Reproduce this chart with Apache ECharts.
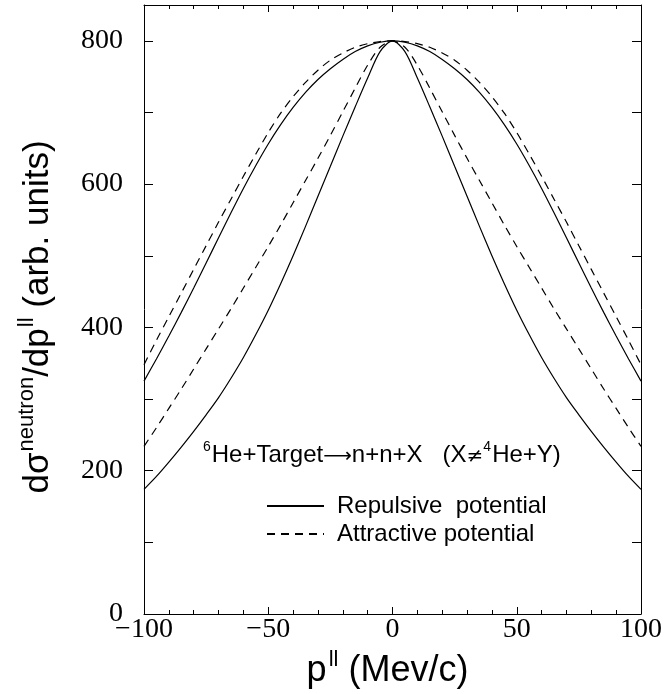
<!DOCTYPE html>
<html>
<head>
<meta charset="utf-8">
<script src="https://cdn.jsdelivr.net/npm/echarts@6/dist/echarts.min.js"></script>
<style>
  html, body { margin: 0; padding: 0; background: #fff; }
  #chart { width: 665px; height: 694px; }
</style>
</head>
<body>
<div id="chart"></div>
<script>
// p|| values (Mev/c)
const pValues = [-100, -95, -90, -85, -80, -75, -70, -65, -60, -55, -50, -45, -40, -35, -30, -25, -20, -15, -10, -5, 0,
  5, 10, 15, 20, 25, 30, 35, 40, 45, 50, 55, 60, 65, 70, 75, 80, 85, 90, 95, 100];
// repulsive potential, wide and narrow curves
const repulsiveWide = [325, 356, 388, 421, 455, 490, 525, 560, 594, 626, 656, 683, 707, 728, 746, 761, 774, 785, 793, 798, 800,
  798, 793, 785, 774, 761, 746, 728, 707, 683, 656, 626, 594, 560, 525, 490, 455, 421, 388, 356, 325];
const repulsiveNarrow = [174, 192, 212, 233, 255, 278, 302, 329, 358, 390, 424, 461, 500, 541, 583, 625, 667, 708, 748, 785, 800,
  785, 748, 708, 667, 625, 583, 541, 500, 461, 424, 390, 358, 329, 302, 278, 255, 233, 212, 192, 174];
// attractive potential, wide and narrow curves
const attractiveWide = [348, 382, 415, 448, 481, 514, 547, 579, 611, 642, 672, 699, 722, 742, 759, 773, 783, 791, 796, 799, 800,
  799, 796, 791, 783, 773, 759, 742, 722, 699, 672, 642, 611, 579, 547, 514, 481, 448, 415, 382, 348];
const attractiveNarrow = [234, 260, 287, 314, 342, 370, 398, 426, 455, 484, 513, 543, 574, 605, 636, 668, 701, 734, 766, 791, 800,
  791, 766, 734, 701, 668, 636, 605, 574, 543, 513, 484, 455, 426, 398, 370, 342, 314, 287, 260, 234];

const serif = "Liberation Serif";
const sans = "Liberation Sans";

const pairs = (ys) => pValues.map((x, i) => [x, ys[i]]);

const chart = echarts.init(document.getElementById("chart"));

const lineSeries = (name, ys, dashed) => ({
  name: name,
  type: "line",
  data: pairs(ys),
  smooth: 0.3,
  symbol: "none",
  showSymbol: false,
  lineStyle: { color: "#000", width: 1.2, type: dashed ? [8, 6] : "solid" },
  itemStyle: { color: "#000" },
});

const axisCommon = {
  axisLine: { show: true, onZero: false, lineStyle: { color: "#000", width: 1 } },
  splitLine: { show: false },
};

const xTicks = {
  axisTick: { inside: true, length: 7, lineStyle: { color: "#000" } },
  minorTick: { show: true, splitNumber: 5, length: 4, lineStyle: { color: "#000" } },
};
const yTicks = {
  axisTick: { inside: true, length: 9, lineStyle: { color: "#000" } },
};

let option = {
  animation: false,
  grid: { left: 144, right: 23, top: 5, bottom: 80 },
  legend: {
    data: ["Repulsive  potential", "Attractive potential"],
    orient: "vertical",
    left: 266,
    top: 494,
    padding: 0,
    itemWidth: 57,
    itemHeight: 14,
    itemGap: 4,
    itemStyle: { color: "rgba(0,0,0,0)", borderColor: "rgba(0,0,0,0)", borderWidth: 0 },
    textStyle: { fontFamily: sans, fontSize: 24, color: "#000", padding: [0, 0, 0, 8] },
  },
  xAxis: [
    {
      ...axisCommon,
      ...xTicks,
      type: "value",
      min: -100,
      max: 100,
      interval: 50,
      position: "bottom",
      axisLabel: {
        fontFamily: serif,
        fontSize: 28,
        color: "#000",
        margin: 2,
        formatter: (v) => String(v).replace("-", "\u2212"),
      },
      name: "{m|p}{s|ll}{e| (Mev/c)}",
      nameLocation: "middle",
      nameGap: 31,
      nameTextStyle: {
        rich: {
          m: { fontFamily: sans, fontSize: 36, color: "#000", verticalAlign: "bottom", lineHeight: 40 },
          e: { fontFamily: sans, fontSize: 36, color: "#000", verticalAlign: "bottom", lineHeight: 40, padding: [0, 10, 0, 0] },
          s: { fontFamily: sans, fontSize: 22, color: "#000", verticalAlign: "top", lineHeight: 22, padding: [0, 0, 8, 2] },
        },
      },
    },
    {
      ...axisCommon,
      ...xTicks,
      type: "value",
      min: -100,
      max: 100,
      interval: 50,
      position: "top",
      axisLabel: { show: false },
    },
  ],
  yAxis: [
    {
      ...axisCommon,
      ...yTicks,
      type: "value",
      min: 0,
      max: 850,
      interval: 100,
      position: "left",
      axisLabel: {
        fontFamily: serif,
        fontSize: 28,
        color: "#000",
        margin: 21,
        formatter: (v) => (v % 200 === 0 && v <= 800 ? String(v) : ""),
      },
      name: "{m|d\u03c3}{s|neutron}{m|/dp}{s|ll}{e| (arb. units)}",
      nameLocation: "middle",
      nameGap: 88,
      nameRotate: 90,
      nameTextStyle: {
        rich: {
          m: { fontFamily: sans, fontSize: 35, color: "#000", verticalAlign: "bottom", lineHeight: 40 },
          e: { fontFamily: sans, fontSize: 35, color: "#000", verticalAlign: "bottom", lineHeight: 40, padding: [0, 15, 0, 0] },
          s: { fontFamily: sans, fontSize: 22, color: "#000", verticalAlign: "top", lineHeight: 22, padding: [0, 0, 8, 1] },
        },
      },
    },
    {
      ...axisCommon,
      ...yTicks,
      type: "value",
      min: 0,
      max: 850,
      interval: 100,
      position: "right",
      axisLabel: { show: false },
    },
  ],
  graphic: [
    {
      type: "text",
      left: 203,
      top: 440,
      style: {
        text: "{s|6}{m|He+Target}{a|\u27f6}{m|n+n+X   (X}{a|\u2260}{s|4}{m|He+Y)}",
        rich: {
          m: { fontFamily: sans, fontSize: 24, fill: "#000", verticalAlign: "bottom", lineHeight: 27 },
          a: { fontFamily: "DejaVu Sans", fontSize: 20, fill: "#000", verticalAlign: "bottom", lineHeight: 27 },
          s: { fontFamily: sans, fontSize: 14, fill: "#000", verticalAlign: "top", lineHeight: 14, padding: [0, 1, 16, 0] },
        },
      },
    },
  ],
  series: [
    lineSeries("Repulsive  potential", repulsiveWide, false),
    lineSeries("Repulsive  potential", repulsiveNarrow, false),
    lineSeries("Attractive potential", attractiveWide, true),
    lineSeries("Attractive potential", attractiveNarrow, true),
  ],
};

chart.setOption(option);
</script>
</body>
</html>
